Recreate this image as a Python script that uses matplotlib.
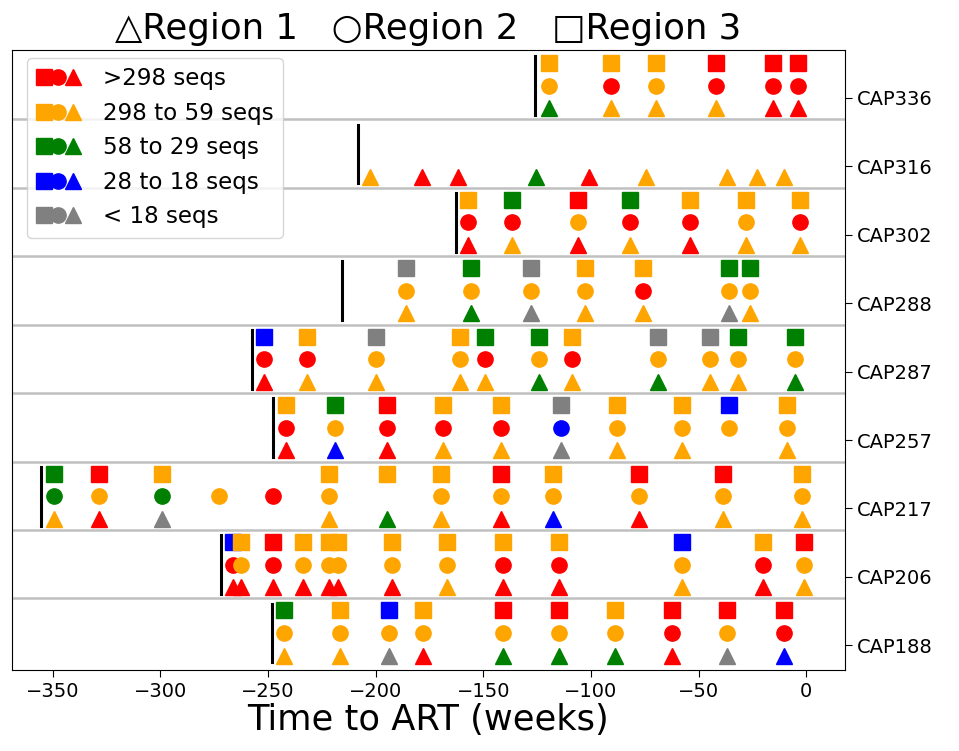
import matplotlib
matplotlib.use("Agg")
import matplotlib.pyplot as plt
from matplotlib.lines import Line2D
from matplotlib.legend_handler import HandlerTuple

# patients, bottom to top
patients = ['CAP188', 'CAP206', 'CAP217', 'CAP257', 'CAP287',
            'CAP288', 'CAP302', 'CAP316', 'CAP336']

# black bar: start of sampling (weeks before ART)
start_weeks = [-248.4, -271.7, -355.5, -247.6, -257.7, -215.7, -162.7, -208.3, -126.0]

# sampling times (weeks before ART)
weeks = [
    [-242.5, -216.7, -193.9, -177.9, -140.9, -114.8, -88.7, -62.1, -36.7, -10.1],
    [-266.3, -262.5, -247.8, -233.7, -221.7, -217.4, -192.6, -166.8, -140.9,
     -114.8, -57.8, -20.0, -0.8],
    [-349.7, -328.7, -299.5, -272.9, -247.8, -221.7, -194.6, -169.8, -141.9,
     -117.8, -77.8, -38.8, -1.8],
    [-241.8, -218.7, -194.6, -168.8, -141.7, -113.8, -87.9, -57.5, -36.0, -8.9],
    [-251.9, -231.9, -199.7, -160.9, -149.0, -123.9, -109.0, -68.9, -44.9,
     -31.7, -5.1],
    [-185.8, -155.9, -128.0, -102.6, -76.0, -36.0, -26.1],
    [-157.1, -136.8, -105.9, -81.9, -54.0, -27.9, -3.0],
    [-202.7, -178.7, -161.9, -125.4, -100.9, -74.3, -36.7, -22.8, -10.1],
    [-119.6, -90.7, -69.7, -41.8, -15.2, -3.8],
]

# seq count class per sample: r >298, o 298-59, g 58-29, b 28-18, k <18, . none
region1 = ["ookrgggrkb", "rrrrrrrorroro", "ork..ogorbroo", "rbrookoo.o",
           "roooogogoog", "ogkooko", "rororoo", "orrgroooo", "gooorr"]
region2 = ["oooooooror", "rorooooorroro", "gogoro.oooooo", "rorrrboooo",
           "rroororoooo", "ooooroo", "rrorror", ".........", "ororrr"]
region3 = ["goborrorrr", "borooooooobor", "gro..ooororro", "ogrookoobo",
           "bokoggokkgg", "kgkoogg", "ogrgooo", ".........", "ooorrr"]

class_codes = ['r', 'o', 'g', 'b', 'k']
class_labels = ['>298 seqs', '298 to 59 seqs', '58 to 29 seqs', '28 to 18 seqs', '< 18 seqs']
class_colors = {'r': 'red', 'o': 'orange', 'g': 'green', 'b': 'blue', 'k': 'gray'}

fig = plt.figure(figsize=(9.59, 7.51), dpi=100)
ax = fig.add_axes([0.0125, 0.108, 0.8685, 0.8254])

ms = 11
rows = [(region1, '^', -0.15), (region2, 'o', 0.18), (region3, 's', 0.51)]
for i, name in enumerate(patients):
    for regions, mk, off in rows:
        for t, c in zip(weeks[i], regions[i]):
            if c == '.':
                continue
            col = class_colors[c]
            ax.plot(t, i + off, marker=mk, ms=ms, color=col, mec=col, ls='none')
    ax.plot([start_weeks[i], start_weeks[i]], [i - 0.25, i + 0.61], color='black', lw=2.2)
    if i < len(patients) - 1:
        ax.axhline(i + 0.685, color='#c0c0c0', lw=1.8, zorder=0)

ax.set_xlim(-369, 18)
ax.set_ylim(-0.36, 8.70)
ax.set_yticks(range(len(patients)))
ax.set_yticklabels(patients)
ax.yaxis.tick_right()
ax.tick_params(labelsize=14, length=5)
ax.set_xticks([-350, -300, -250, -200, -150, -100, -50, 0])
ax.set_xlabel('Time to ART (weeks)', fontsize=25.4, labelpad=2)
ax.set_title('\u25b3Region 1   \u25cbRegion 2   \u25a1Region 3', fontsize=25.6, pad=8)

handles = []
for code in class_codes:
    col = class_colors[code]
    handles.append(tuple(Line2D([], [], marker=m, ms=ms, color=col, mec=col, ls='none')
                         for m in ['s', 'o', '^']))
ax.legend(handles, class_labels, loc='upper left', bbox_to_anchor=(0.018, 0.987),
          borderaxespad=0, fontsize=16.6, labelspacing=0.5,
          handler_map={tuple: HandlerTuple(ndivide=None, pad=0)},
          handlelength=1.9, handletextpad=1.0)

fig.savefig('out.png', dpi=100)
